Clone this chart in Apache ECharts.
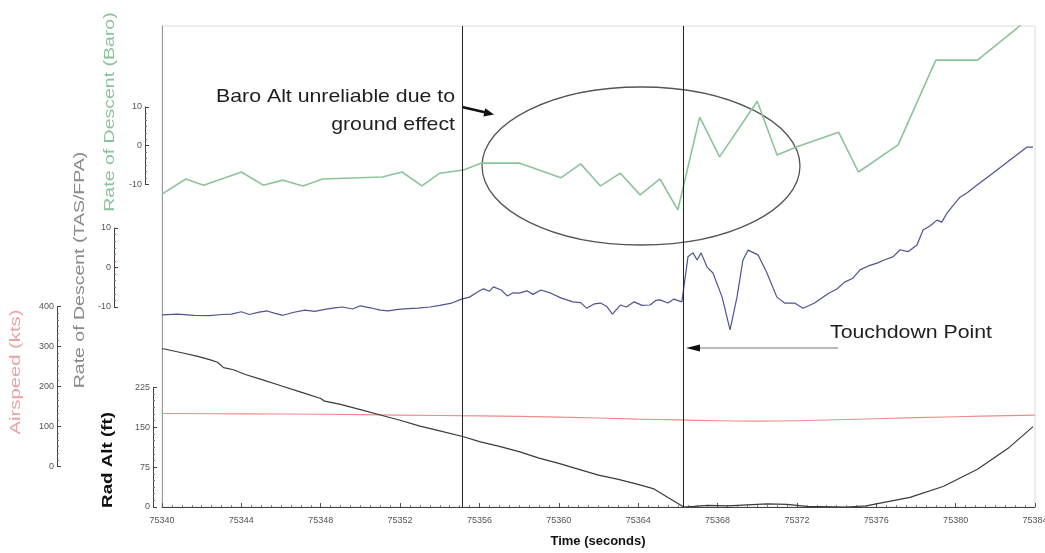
<!DOCTYPE html>
<html><head><meta charset="utf-8">
<script src="https://cdn.jsdelivr.net/npm/echarts@6/dist/echarts.min.js"></script>
<style>html,body{margin:0;padding:0;background:#fff}#c{width:1045px;height:553px}</style>
</head><body><div id="c"></div>
<script>
// ---------- DATA ----------
const timeMin = 75340, timeMax = 75384, timeStep = 4;

const baroTime = [75340.0,75341.2,75342.1,75344.0,75345.1,75346.1,75347.1,75348.1,75351.1,75352.1,75353.1,75354.0,75355.2,75356.1,75358.0,75360.1,75361.1,75362.1,75363.1,75364.1,75365.1,75366.0,75367.1,75368.1,75370.0,75371.0,75372.0,75374.1,75375.1,75377.1,75379.0,75381.1,75383.1,75384.0];
const baroRod  = [-12.5,-8.6,-10.2,-6.8,-10.2,-8.9,-10.4,-8.6,-8.1,-6.8,-10.4,-7.1,-6.3,-4.5,-4.5,-8.3,-4.7,-10.4,-7.1,-12.7,-8.6,-16.6,7.4,-2.9,11.5,-2.4,-0.3,3.5,-6.8,0.2,22.1,22.1,30.4,35.0];

const tasTime = [75340.0,75340.8,75341.6,75342.4,75343.0,75343.5,75344.0,75344.4,75344.9,75345.3,75345.7,75346.1,75346.6,75347.2,75347.7,75348.2,75348.7,75349.1,75349.6,75350.0,75350.5,75351.0,75351.4,75351.9,75352.4,75352.9,75353.5,75354.0,75354.6,75355.1,75355.5,75355.9,75356.2,75356.5,75356.7,75357.1,75357.4,75357.7,75358.0,75358.4,75358.7,75359.1,75359.6,75360.1,75360.7,75361.1,75361.4,75361.8,75362.1,75362.4,75362.7,75363.1,75363.4,75363.8,75364.2,75364.6,75364.9,75365.1,75365.5,75365.8,75366.2,75366.3,75366.51,75366.76,75366.97,75367.17,75367.47,75367.77,75368.23,75368.63,75368.98,75369.28,75369.54,75370.04,75370.49,75370.99,75371.38,75371.88,75372.31,75372.89,75373.6,75374.0,75374.4,75374.8,75375.18,75375.6,75376.04,75376.4,75376.84,75377.2,75377.6,75378.05,75378.36,75378.7,75379.06,75379.3,75379.57,75380.22,75380.6,75381.08,75381.89,75382.74,75383.6,75383.9];
const tasRod  = [-12.0,-11.8,-12.1,-12.2,-11.9,-11.8,-11.2,-11.9,-11.3,-11.0,-11.6,-12.1,-11.4,-10.8,-11.1,-10.6,-10.2,-10.0,-10.5,-9.7,-10.2,-10.8,-11.0,-10.6,-10.4,-10.3,-10.0,-9.6,-9.0,-8.0,-7.5,-6.2,-5.4,-6.0,-4.9,-5.7,-7.2,-6.4,-6.5,-5.9,-6.8,-5.7,-6.5,-7.7,-8.7,-8.9,-10.3,-9.2,-9.0,-9.8,-11.8,-9.5,-10.0,-8.7,-9.6,-9.5,-8.3,-8.2,-9.0,-8.0,-8.7,-8.9,2.7,3.7,1.9,3.7,0.1,-1.4,-7.5,-15.8,-7.5,1.9,4.4,3.2,-1.4,-7.5,-9.0,-9.0,-10.3,-9.0,-6.5,-5.5,-3.7,-2.8,-0.6,0.4,1.1,1.9,2.7,4.5,4.0,5.7,9.5,10.5,12.0,11.5,13.8,17.8,19.0,20.9,23.9,27.2,30.5,30.5];

const radTime = [75340.0,75341.0,75341.8,75342.4,75342.8,75343.1,75343.6,75344.2,75345.0,75346.0,75347.0,75348.0,75348.2,75349.0,75350.0,75351.1,75352.0,75353.0,75354.0,75355.2,75356.0,75357.0,75358.0,75359.0,75360.0,75360.8,75362.0,75363.0,75363.9,75364.8,75365.5,75366.3,75366.8,75367.5,75368.5,75369.5,75370.5,75371.5,75372.5,75374.5,75375.5,75376.0,75377.7,75379.4,75381.1,75382.7,75383.9];
const radAlt  = [298,290,283,277,272,262,258,249,240,228,216,204,199,193,183,172,163,152,143,132,123,114,104,92,82,73,60,52,43.5,34,18,0,1,3,2,4,6,5,1,0,2,6,18,39,71,112,151];

const iasTime = [75340,75344,75348,75352,75356,75360,75364,75366,75368,75370,75372,75376,75380,75384];
const airspeed = [133,132,131,129,127,124,119,117,115,114,115,120,125,129];

const eventTimes = [75355.12, 75366.26];   // vertical reference lines (second = touchdown)

const baroTicks = [-10, 10, 10];      // min, max, interval
const tasTicks  = [-10, 10, 10];
const iasTicks  = [0, 400, 100];
const radTicks  = [0, 225, 75];

// ---------- LAYOUT ----------
const plotTop = 26, plotBottom = 507, plotLeft = 162, plotRight = 1035;
function rangeFor(zeroPx, pxPerUnit) {
  return { min: -(plotBottom - zeroPx) / pxPerUnit, max: (zeroPx - plotTop) / pxPerUnit };
}
const radR  = rangeFor(507, (507 - 387.3) / 225);
const iasR  = rangeFor(466.7, 0.4);
const tasR  = rangeFor(267.5, 3.95);
const baroR = rangeFor(145.7, 3.87);

function zip(a, b) { return a.map((t, i) => [t, b[i]]); }

function shortAxis(gridIndex, ticks) {
  return {
    type: 'value', gridIndex, position: 'left',
    min: ticks[0], max: ticks[1], interval: ticks[2],
    axisLine: { show: true, lineStyle: { color: '#4a4040', width: 1 } },
    axisTick: { show: true, inside: true, length: 4, lineStyle: { color: '#4a4040' } },
    minorTick: { show: true, splitNumber: 6, length: 2, lineStyle: { color: '#777' } },
    splitLine: { show: false },
    axisLabel: { fontSize: 9, color: '#555', margin: 3, fontFamily: 'Liberation Sans' }
  };
}
function hiddenY(r) {
  return { type: 'value', gridIndex: 0, min: r.min, max: r.max, show: false, splitLine: { show: false } };
}
function hiddenX(g) {
  return { type: 'value', gridIndex: g, min: 0, max: 1, show: false };
}
function rotText(x, y, text, color, size, sx, weight) {
  return {
    type: 'text', x, y, rotation: Math.PI / 2, scaleX: sx, silent: true,
    style: { text, fill: color, font: (weight || 'normal') + ' ' + size + 'px "Liberation Sans", Arial, sans-serif',
             textAlign: 'center', textVerticalAlign: 'middle' }
  };
}
function annText(x, y, text, align) {
  return {
    type: 'text', x, y, scaleX: 1.15, silent: true,
    style: { text, fill: '#1e1e1e', font: '18.5px "Liberation Sans", Arial, sans-serif',
             textAlign: align, textVerticalAlign: 'middle' }
  };
}
function smallGrid(left, top, height) {
  return { left, top, width: 1, height, outerBoundsMode: 'none', containLabel: false };
}

const chart = echarts.init(document.getElementById('c'), null, { renderer: 'canvas' });
chart.setOption({
  animation: false,
  backgroundColor: '#fff',
  grid: [
    { left: plotLeft, top: plotTop, width: plotRight - plotLeft, height: plotBottom - plotTop,
      outerBoundsMode: 'none', containLabel: false,
      show: true, borderColor: '#dcdcdc', borderWidth: 1, backgroundColor: 'transparent' },
    smallGrid(145, 107, 77.4),
    smallGrid(114, 228, 79),
    smallGrid(57, 306.7, 160),
    smallGrid(153, 387.3, 119.7)
  ],
  xAxis: [
    { type: 'value', gridIndex: 0, min: timeMin, max: timeMax, interval: timeStep,
      axisLine: { lineStyle: { color: '#444', width: 1 } },
      axisTick: { show: true, inside: true, length: 4, lineStyle: { color: '#555' } },
      minorTick: { show: true, splitNumber: 8, length: 2, lineStyle: { color: '#888' } },
      splitLine: { show: false },
      axisLabel: { fontSize: 9, color: '#555', margin: 9, formatter: v => String(v),
                   fontFamily: '"Liberation Sans Narrow", "Liberation Sans", sans-serif' } },
    hiddenX(1), hiddenX(2), hiddenX(3), hiddenX(4)
  ],
  yAxis: [
    Object.assign(hiddenY(radR), { show: true, axisLine: { show: true, lineStyle: { color: '#999' } },
      axisTick: { show: false }, axisLabel: { show: false } }),
    hiddenY(iasR), hiddenY(tasR), hiddenY(baroR),
    shortAxis(1, baroTicks), shortAxis(2, tasTicks), shortAxis(3, iasTicks), shortAxis(4, radTicks)
  ],
  series: [
    { type: 'line', name: 'Airspeed', xAxisIndex: 0, yAxisIndex: 1, data: zip(iasTime, airspeed),
      showSymbol: false, smooth: 0.4, lineStyle: { color: '#f08a8a', width: 1.1 } },
    { type: 'line', name: 'Rad Alt', xAxisIndex: 0, yAxisIndex: 0, data: zip(radTime, radAlt),
      showSymbol: false, lineStyle: { color: '#3a3a3a', width: 1.2 },
      markLine: { silent: true, symbol: ['none', 'none'], label: { show: false },
        lineStyle: { color: '#222', width: 1, type: 'solid' },
        data: eventTimes.map(t => ({ xAxis: t })) } },
    { type: 'line', name: 'ROD TAS/FPA', xAxisIndex: 0, yAxisIndex: 2, data: zip(tasTime, tasRod),
      showSymbol: false, lineStyle: { color: '#4e5393', width: 1.2 } },
    { type: 'line', name: 'ROD Baro', xAxisIndex: 0, yAxisIndex: 3, data: zip(baroTime, baroRod),
      showSymbol: false, lineStyle: { color: '#8cc49a', width: 1.6 } }
  ],
  graphic: [
    { type: 'ellipse', silent: true, shape: { cx: 641, cy: 166, rx: 159, ry: 79 },
      style: { fill: 'none', stroke: '#555', lineWidth: 1.3 } },
    { type: 'line', silent: true, shape: { x1: 462, y1: 107, x2: 486, y2: 112.5 },
      style: { stroke: '#111', lineWidth: 2.4 } },
    { type: 'polygon', silent: true, shape: { points: [[494, 114.5], [483.4, 116.6], [485.2, 108.3]] },
      style: { fill: '#111' } },
    { type: 'line', silent: true, shape: { x1: 838, y1: 348, x2: 697, y2: 348 },
      style: { stroke: '#777', lineWidth: 1.2 } },
    { type: 'polygon', silent: true, shape: { points: [[686, 348], [700, 344.5], [700, 351.5]] },
      style: { fill: '#111' } },
    annText(455, 97, 'Baro Alt unreliable due to', 'right'),
    annText(455, 125, 'ground effect', 'right'),
    annText(830, 333, 'Touchdown Point', 'left'),
    rotText(110, 112, 'Rate of Descent (Baro)', '#8cc49a', 15, 1.3),
    rotText(80, 270, 'Rate of Descent (TAS/FPA)', '#8a8a8a', 15, 1.3),
    rotText(16, 372, 'Airspeed (kts)', '#eba3a3', 15, 1.35),
    rotText(108, 460, 'Rad Alt (ft)', '#111', 15, 1.25, 'bold'),
    { type: 'text', x: 598, y: 541, silent: true,
      style: { text: 'Time (seconds)', fill: '#111', font: 'bold 13px "Liberation Sans", Arial, sans-serif',
               textAlign: 'center', textVerticalAlign: 'middle' } }
  ]
});
</script>
</body></html>
